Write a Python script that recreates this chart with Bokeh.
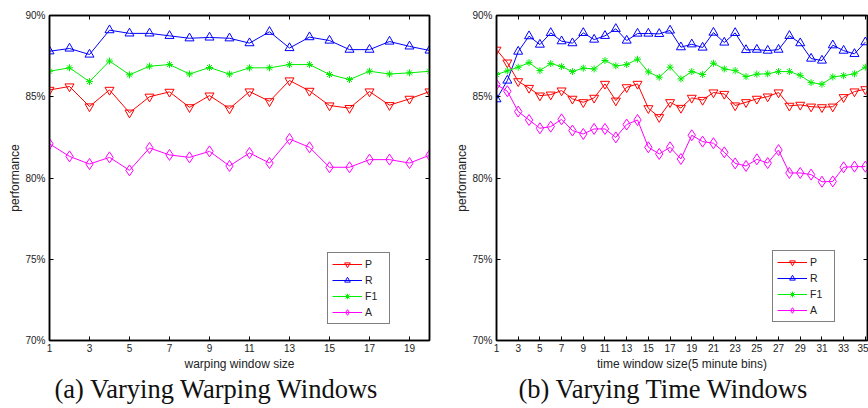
from bokeh.plotting import figure
from bokeh.layouts import row
from bokeh.models import (LinearAxis, FixedTicker, PrintfTickFormatter, Range1d,
                          Title)
from bokeh.embed import file_html
from bokeh.resources import INLINE

# ---------------- data ----------------
warp_x = list(range(1, 21))
warp_P = [85.42, 85.63, 84.40, 85.42, 84.02, 85.00, 85.30, 84.35, 85.07, 84.27,
          85.32, 84.72, 86.00, 85.36, 84.46, 84.30, 85.32, 84.48, 84.87, 85.32]
warp_R = [87.80, 87.97, 87.60, 89.10, 88.90, 88.90, 88.75, 88.60, 88.65, 88.60,
          88.30, 89.00, 88.00, 88.67, 88.46, 87.90, 87.90, 88.40, 88.10, 87.85]
warp_F1 = [86.57, 86.78, 85.93, 87.20, 86.35, 86.88, 86.98, 86.40, 86.80, 86.39,
           86.78, 86.78, 86.98, 86.98, 86.37, 86.06, 86.57, 86.40, 86.47, 86.57]
warp_A = [82.10, 81.33, 80.86, 81.27, 80.47, 81.85, 81.42, 81.27, 81.64, 80.74,
          81.54, 80.92, 82.40, 81.89, 80.66, 80.66, 81.13, 81.13, 80.92, 81.40]

time_x = list(range(1, 36))
time_P = [87.89, 87.10, 85.95, 85.54, 85.07, 85.13, 85.38, 84.87, 84.66, 84.93,
          85.79, 84.76, 85.58, 85.79, 84.29, 83.74, 84.66, 84.31, 84.93, 84.80,
          85.26, 85.17, 84.46, 84.66, 84.87, 85.01, 85.26, 84.44, 84.50, 84.39,
          84.35, 84.39, 84.97, 85.32, 85.46]
time_R = [84.85, 86.00, 87.78, 88.73, 88.21, 88.93, 88.42, 88.30, 88.93, 88.52,
          88.75, 89.18, 88.46, 88.89, 88.89, 88.87, 89.08, 88.05, 88.23, 88.03,
          88.95, 88.34, 88.93, 87.88, 87.90, 87.84, 87.90, 88.75, 88.30, 87.35,
          87.23, 88.17, 87.84, 87.64, 88.36]
time_F1 = [86.37, 86.59, 86.82, 87.10, 86.61, 87.04, 86.86, 86.55, 86.76, 86.71,
           87.23, 86.90, 86.98, 87.31, 86.53, 86.20, 86.82, 86.10, 86.55, 86.37,
           87.06, 86.71, 86.61, 86.24, 86.39, 86.41, 86.55, 86.55, 86.32, 85.87,
           85.77, 86.22, 86.30, 86.41, 86.82]
time_A = [85.75, 85.34, 84.09, 83.57, 83.06, 83.16, 83.61, 82.92, 82.71, 83.02,
          83.02, 82.50, 83.29, 83.57, 81.89, 81.48, 81.89, 81.17, 82.63, 82.24,
          82.14, 81.58, 80.90, 80.74, 81.15, 80.92, 81.72, 80.31, 80.31, 80.21,
          79.77, 79.79, 80.66, 80.70, 80.70]

y_ticks = [70, 75, 80, 85, 90]
warp_ticks = list(range(1, 20, 2))
time_ticks = list(range(1, 36, 2))

series_names = ["P", "R", "F1", "A"]
series_colors = ["#ff0000", "#0000ff", "#00ee00", "#ff00ff"]
series_markers = ["inverted_triangle", "triangle", "asterisk", "diamond"]
marker_sizes = [9, 9, 7, 11]

SANS = "Liberation Sans"


def style_axis(ax, show_labels=True, label_standoff=4, tick_standoff=4):
    ax.major_tick_in = 4
    ax.major_tick_out = 0
    ax.minor_tick_in = 0
    ax.minor_tick_out = 0
    ax.major_tick_line_color = "black"
    ax.axis_line_color = "black"
    ax.axis_line_width = 1.5
    ax.major_label_text_font = SANS
    if show_labels:
        ax.major_label_text_color = "#222222"
        ax.major_label_text_font_size = "10px"
        ax.major_label_standoff = tick_standoff
    else:
        ax.major_label_text_color = None
        ax.major_label_text_font_size = "1px"
        ax.major_label_standoff = 0
    ax.axis_label_text_font = SANS
    ax.axis_label_text_font_size = "12px"
    ax.axis_label_text_font_style = "normal"
    ax.axis_label_text_color = "#222222"
    ax.axis_label_standoff = label_standoff


def make_chart(xs, ys_list, x_end, x_ticks, x_label, caption, frame_w,
               min_left, min_right, cap_offset, leg_loc):
    p = figure(frame_width=frame_w, frame_height=325,
               x_range=Range1d(1, x_end), y_range=Range1d(70, 90),
               output_backend="svg", toolbar_location=None,
               min_border_left=min_left, min_border_right=min_right,
               min_border_top=15, min_border_bottom=0)
    p.xgrid.visible = False
    p.ygrid.visible = False
    p.outline_line_color = "black"
    p.outline_line_width = 1.5
    p.outline_line_alpha = 1

    p.xaxis.ticker = FixedTicker(ticks=x_ticks)
    p.yaxis.ticker = FixedTicker(ticks=y_ticks)
    p.yaxis.formatter = PrintfTickFormatter(format="%d%%")
    p.xaxis.axis_label = x_label
    p.yaxis.axis_label = "performance"
    for ax in p.xaxis:
        style_axis(ax, label_standoff=2, tick_standoff=3)
    for ax in p.yaxis:
        style_axis(ax, label_standoff=0)

    top = LinearAxis(ticker=FixedTicker(ticks=x_ticks))
    style_axis(top, show_labels=False)
    p.add_layout(top, "above")
    rgt = LinearAxis(ticker=FixedTicker(ticks=y_ticks))
    style_axis(rgt, show_labels=False)
    p.add_layout(rgt, "right")

    for name, col, mk, sz, ys in zip(series_names, series_colors, series_markers,
                                     marker_sizes, ys_list):
        p.line(xs, ys, line_color=col, line_width=1, legend_label=name)
        p.scatter(xs, ys, marker=mk, size=sz, fill_color=None, line_color=col,
                  line_width=1, legend_label=name)

    lg = p.legend[0]
    lg.location = leg_loc
    lg.border_line_color = "black"
    lg.border_line_width = 1.5
    lg.background_fill_color = "white"
    lg.background_fill_alpha = 1
    lg.padding = 4
    lg.margin = 0
    lg.spacing = 2
    lg.glyph_width = 30
    lg.glyph_height = 14
    lg.label_height = 14
    lg.label_standoff = 3
    lg.label_text_font = SANS
    lg.label_text_font_size = "10.5px"
    lg.label_text_color = "#222222"

    p.add_layout(Title(text=caption, align="left", text_font="Liberation Serif",
                       text_font_size="26.5px", text_font_style="normal",
                       text_color="#111111", offset=cap_offset, standoff=0,
                       text_line_height=0.85, vertical_align="top"),
                 "below")
    return p


p1 = make_chart(warp_x, [warp_P, warp_R, warp_F1, warp_A], 20, warp_ticks,
                "warping window size", "(a) Varying Warping Windows",
                380, 49, 11, 5, (278, 16))
p2 = make_chart(time_x, [time_P, time_R, time_F1, time_A], 35.2, time_ticks,
                "time window size(5 minute bins)", "(b) Varying Time Windows",
                371, 56, 1, 22, (276, 18))

layout = row(p1, p2, spacing=0)
open("out.html", "w").write(file_html(layout, INLINE))
